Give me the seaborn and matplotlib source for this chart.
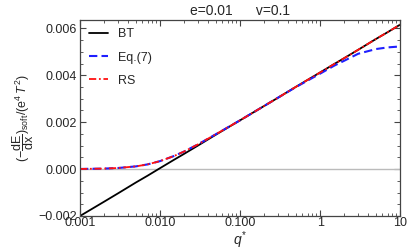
import numpy as np
import pandas as pd
import seaborn as sns
import matplotlib.pyplot as plt
from matplotlib.ticker import FixedLocator, MultipleLocator, LogLocator, NullFormatter

# values
q = [0.001, 0.002, 0.003, 0.005, 0.007, 0.01, 0.015, 0.02, 0.03, 0.05,
     0.1, 0.3, 0.5, 1, 1.5, 2, 3, 5, 7, 10]
bt = [-0.00200, -0.00139, -0.00103, -0.00057, -0.00028, 0.00004, 0.00040,
      0.00065, 0.00101, 0.00147, 0.00208, 0.00305, 0.00351, 0.00412,
      0.00448, 0.00473, 0.00509, 0.00555, 0.00584, 0.00616]
eq7 = [0.000006, 0.000022, 0.000047, 0.000116, 0.000201, 0.00034, 0.00056,
       0.00075, 0.00106, 0.00149, 0.00208, 0.00305, 0.00350, 0.00407,
       0.00441, 0.00462, 0.00492, 0.00512, 0.00519, 0.00523]
rs = [0.000006, 0.000022, 0.000047, 0.000116, 0.000201, 0.00034, 0.00056,
      0.00075, 0.00106, 0.00149, 0.00208, 0.00305, 0.00351, 0.00412,
      0.00448, 0.00473, 0.00509, 0.00555, 0.00584, 0.00616]

xticks = [0.001, 0.01, 0.1, 1, 10]
xticklabels = ["0.001", "0.010", "0.100", "1", "10"]
yticks = [-0.002, 0.0, 0.002, 0.004, 0.006]
yticklabels = ["\u22120.002", "0.000", "0.002", "0.004", "0.006"]

df = pd.DataFrame({"q": q, "BT": bt, "Eq.(7)": eq7, "RS": rs})

sns.set_style("ticks")
plt.rcParams['font.family'] = ['Liberation Sans', 'DejaVu Sans']
plt.rcParams['mathtext.fontset'] = 'custom'
plt.rcParams['mathtext.rm'] = 'Liberation Sans'
plt.rcParams['mathtext.it'] = 'Liberation Sans:italic'

fig = plt.figure(figsize=(4.07, 2.52), dpi=100)
ax = fig.add_axes([0.1966, 0.1429, 0.7864, 0.7797])

ax.axhline(0, color="#bbbbbb", lw=1.0, zorder=1)
sns.lineplot(data=df, x="q", y="BT", ax=ax, color="black", lw=1.3, label="BT")
sns.lineplot(data=df, x="q", y="Eq.(7)", ax=ax, color="#1f1fff", lw=1.5,
             label="Eq.(7)", dashes=False)
ax.lines[-1].set_dashes([4, 2])
sns.lineplot(data=df, x="q", y="RS", ax=ax, color="#ff1010", lw=1.3, label="RS")
ax.lines[-1].set_dashes([4, 1.5, 1, 1.5])

ax.set_xscale("log")
ax.set_xlim(0.001, 10)
ax.set_ylim(-0.002, 0.00638)
ax.xaxis.set_major_locator(FixedLocator(xticks))
ax.set_xticklabels(xticklabels)
ax.xaxis.set_minor_locator(LogLocator(base=10, subs=np.arange(2, 10)))
ax.xaxis.set_minor_formatter(NullFormatter())
ax.yaxis.set_major_locator(FixedLocator(yticks))
ax.set_yticklabels(yticklabels)
ax.yaxis.set_minor_locator(MultipleLocator(0.0005))

ax.tick_params(which="both", direction="in", top=True, right=True, labelsize=9,
               color="#444444", pad=2)
ax.tick_params(axis="x", which="major", pad=1)
ax.tick_params(which="major", length=4, width=0.8)
ax.tick_params(which="minor", length=2, width=0.6)
for s in ax.spines.values():
    s.set_color("#444444")
    s.set_linewidth(0.9)

ax.set_xlabel(r"$q^{*}$", fontsize=10, labelpad=0)
ax.set_ylabel(r"$(-\dfrac{\mathrm{dE}}{\mathrm{dx}})_{\mathrm{soft}}/(\mathrm{e}^4\,T^2)$",
              fontsize=9, labelpad=2)
ax.set_title("e=0.01      v=0.1", fontsize=10, pad=3)

ax.legend(loc="upper left", frameon=False, fontsize=9, handlelength=1.5,
          labelspacing=0.9, borderaxespad=0.3, handletextpad=0.8)

fig.savefig("out.png", dpi=100)
